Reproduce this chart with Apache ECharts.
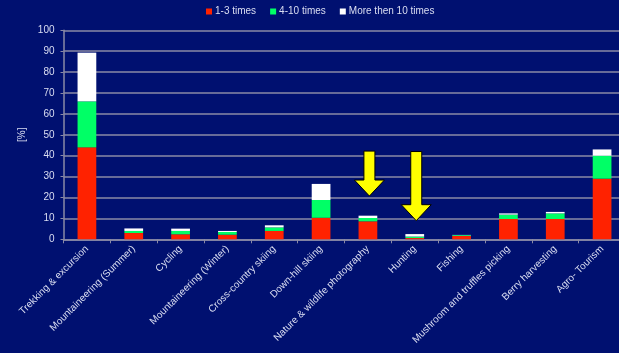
<!DOCTYPE html>
<html>
<head>
<meta charset="utf-8">
<script src="https://cdn.jsdelivr.net/npm/echarts@6/dist/echarts.min.js"></script>
<style>
html,body{margin:0;padding:0;background:#001070;overflow:hidden;}
#c{width:619px;height:353px;}
</style>
</head>
<body>
<div id="c"></div>
<script>
var categories = ['Trekking & excursion','Mountaineering (Summer)','Cycling','Mountaineering (Winter)','Cross-country skiing','Down-hill skiing','Nature & wildlife photography','Hunting','Fishing','Mushroom and truffles picking','Berry harvesting','Agro- Tourism'];
var seriesNames = ['1-3 times','4-10 times','More then 10 times'];
var red   = [44, 3, 2.4, 2.2, 4, 10.3, 8.6, 0.6, 1.6, 9.7, 9.7, 29];
var green = [22, 1, 1.6, 1.3, 1.7, 8.5, 1.6, 0.7, 0.4, 2.1, 2.7, 11];
var white = [23.3, 1.2, 1.1, 0.5, 1, 7.7, 1.1, 1.2, 0.1, 0.6, 0.7, 3];
var yTicks = [0,10,20,30,40,50,60,70,80,90,100];
// arrow annotations: [category index, top value, tip value]
var arrows = [[6, 42.2, 20.7], [7, 42, 8.9]];

var chart = echarts.init(document.getElementById('c'), null, {renderer:'canvas'});
var font = 'Liberation Sans, Arial, sans-serif';
var txt = '#dadef2';
var gridCol = '#8a8aa6';
function bar(name, data, color){
  return {name:name, type:'bar', stack:'a', data:data, barWidth:'40%',
    itemStyle:{color:color}, emphasis:{disabled:true}};
}
chart.setOption({
  backgroundColor:'#001070',
  animation:false,
  textStyle:{fontFamily:font},
  legend:{top:6.5, left:206, itemWidth:6, itemHeight:6, itemGap:14,
    icon:'rect', padding:0,
    textStyle:{color:txt, fontSize:10, fontFamily:font, padding:[0,0,0,-2]},
    data:seriesNames},
  grid:{left:63.5, width:562, top:30.3, height:209, containLabel:false, outerBoundsMode:'none'},
  xAxis:{type:'category', data:categories,
    axisLine:{lineStyle:{color:gridCol, width:1.5}},
    axisTick:{show:true, length:4, lineStyle:{color:gridCol}},
    axisLabel:{rotate:45, interval:0, color:txt, fontSize:10, fontFamily:font, margin:8, hideOverlap:false}},
  yAxis:{type:'value', min:yTicks[0], max:yTicks[yTicks.length-1], interval:10,
    name:'[%]', nameLocation:'middle', nameGap:26, nameRotate:90,
    nameTextStyle:{color:txt, fontSize:10, fontFamily:font},
    axisLine:{show:true, lineStyle:{color:gridCol, width:1.5}},
    axisTick:{show:true, length:3, lineStyle:{color:gridCol}},
    axisLabel:{color:txt, fontSize:10, fontFamily:font, margin:9},
    splitLine:{show:true, lineStyle:{color:gridCol, width:1.5}}},
  series:[bar(seriesNames[0], red, '#ff2200'), bar(seriesNames[1], green, '#00ff66'), bar(seriesNames[2], white, '#ffffff')]
});

var g = [];
arrows.forEach(function(a){
  var top = chart.convertToPixel({gridIndex:0}, [a[0], a[1]]);
  var tip = chart.convertToPixel({gridIndex:0}, [a[0], a[2]]);
  var cx = top[0] + 1.5, sw = 5.5, hw = 15, hh = 16;
  var ty = top[1], py = tip[1], hy = py - hh;
  g.push({type:'polygon', shape:{points:[[cx-sw,ty],[cx+sw,ty],[cx+sw,hy],[cx+hw,hy],[cx,py],[cx-hw,hy],[cx-sw,hy]]},
    style:{fill:'#ffff00', stroke:'#000000', lineWidth:1}, z:100});
});
chart.setOption({graphic:g});
</script>
</body>
</html>
